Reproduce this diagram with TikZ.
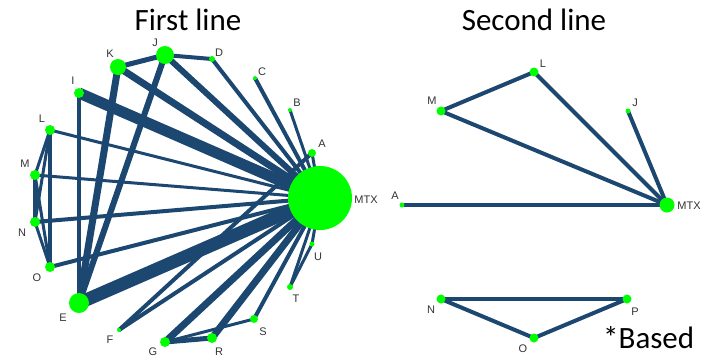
\documentclass[tikz,border=0pt]{standalone}
\usepackage{fontspec}
\setmainfont{Liberation Sans}
\newfontfamily\calib{Carlito}
\definecolor{edgeblue}{RGB}{27,71,112}
\definecolor{nodegreen}{RGB}{0,255,0}
\pgfdeclarelayer{bg}
\pgfsetlayers{bg,main}
\begin{document}
\begin{tikzpicture}[x=1pt,y=-1pt,
  nd/.style={circle,fill=nodegreen,inner sep=0pt,minimum size=#1},
  lbl/.style={font=\fontsize{11}{11}\selectfont,text=black!80,inner sep=0pt},
  ed/.style={draw=edgeblue,line width=#1},
  ttl/.style={font=\calib\fontsize{31}{31}\selectfont,inner sep=0pt,anchor=base}]
\useasboundingbox (0,0) rectangle (702,357);

% titles
\node[ttl] (t1) at (188,30) {First line};
\node[ttl] (t2) at (534,30) {Second line};
\node[ttl,anchor=base west] (t3) at (603,348) {*Based};

% ---------- left network nodes ----------
\node[nd=64pt] (lMTX) at (320,198) {};
\node[nd=8pt]  (lA) at (312,153) {};
\node[nd=4pt]  (lB) at (290,110) {};
\node[nd=4pt]  (lC) at (255,78) {};
\node[nd=6pt]  (lD) at (212,59) {};
\node[nd=18pt] (lJ) at (165,55) {};
\node[nd=16pt] (lK) at (118,67) {};
\node[nd=10pt] (lI) at (79,93) {};
\node[nd=10pt] (lL) at (50,130) {};
\node[nd=10pt] (lM) at (35,175) {};
\node[nd=10pt] (lN) at (35,222) {};
\node[nd=10pt] (lO) at (50,267) {};
\node[nd=20pt] (lE) at (79,303) {};
\node[nd=4pt]  (lF) at (119,330) {};
\node[nd=10pt] (lG) at (165,342) {};
\node[nd=10pt] (lR) at (212,338) {};
\node[nd=8pt]  (lS) at (254,319) {};
\node[nd=6pt]  (lT) at (290,287) {};
\node[nd=5pt]  (lU) at (312,244) {};

% left labels
\node[lbl] (xMTX) at (366,200) {MTX};
\node[lbl] (xA) at (322,144) {A};
\node[lbl] (xB) at (297,103) {B};
\node[lbl] (xC) at (262,72) {C};
\node[lbl] (xD) at (219,53) {D};
\node[lbl] (xJ) at (155,43) {J};
\node[lbl] (xK) at (110,54) {K};
\node[lbl] (xI) at (73,81) {I};
\node[lbl] (xL) at (42,119) {L};
\node[lbl] (xM) at (25,164) {M};
\node[lbl] (xN) at (22,233) {N};
\node[lbl] (xO) at (37,278) {O};
\node[lbl] (xE) at (63,318) {E};
\node[lbl] (xF) at (110,340) {F};
\node[lbl] (xG) at (153,352) {G};
\node[lbl] (xR) at (219,352) {R};
\node[lbl] (xS) at (263,332) {S};
\node[lbl] (xT) at (296,299) {T};
\node[lbl] (xU) at (318,257) {U};

% ---------- right network nodes ----------
\node[nd=15pt] (rMTX) at (667,205) {};
\node[nd=5pt]  (rA) at (402,205) {};
\node[nd=9pt]  (rM) at (441,111) {};
\node[nd=9pt]  (rL) at (534,72) {};
\node[nd=5pt]  (rJ) at (628,111) {};
\node[lbl] (yMTX) at (689,206) {MTX};
\node[lbl] (yA) at (395,196) {A};
\node[lbl] (yM) at (432,101) {M};
\node[lbl] (yL) at (543,64) {L};
\node[lbl] (yJ) at (635,103) {J};

\node[nd=9pt] (bN) at (441,299) {};
\node[nd=9pt] (bP) at (627,299) {};
\node[nd=9pt] (bO) at (534,338) {};
\node[lbl] (zN) at (431,310) {N};
\node[lbl] (zP) at (635,312) {P};
\node[lbl] (zO) at (523,349) {O};

% ---------- edges ----------
\begin{pgfonlayer}{bg}
\foreach \n/\w in {A/3,B/3,C/4,D/4,J/6,K/7,I/11,L/3,M/3,N/4,O/4,E/13,F/4,G/7,R/7,S/4,T/3,U/3}
  \draw[ed=\w pt] (lMTX.center) -- (l\n.center);
\foreach \a/\b/\w in {J/K/5,J/D/4,K/E/7,J/E/6,I/E/4,L/M/3,L/N/3,L/O/4,M/N/4,M/O/3,N/O/3,F/A/4,G/R/5,G/S/3,T/U/3}
  \draw[ed=\w pt] (l\a.center) -- (l\b.center);
\foreach \n in {A,M,L,J}
  \draw[ed=4pt] (rMTX.center) -- (r\n.center);
\draw[ed=4pt] (rM.center) -- (rL.center);
\draw[ed=4pt] (bN.center) -- (bP.center);
\draw[ed=4pt] (bN.center) -- (bO.center);
\draw[ed=4pt] (bO.center) -- (bP.center);
\end{pgfonlayer}
\end{tikzpicture}
\end{document}
